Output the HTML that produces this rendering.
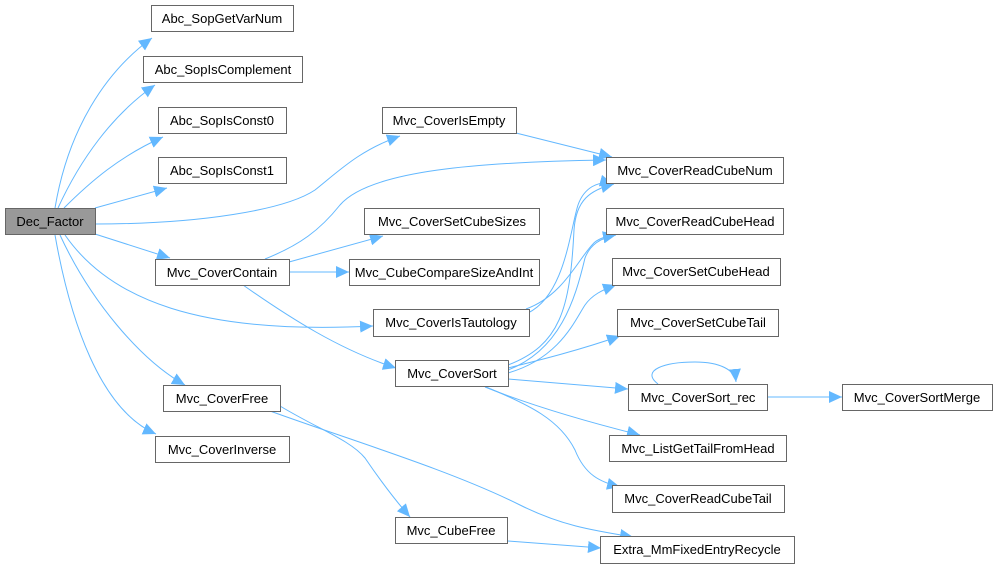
<!DOCTYPE html>
<html><head><meta charset="utf-8"><style>
html,body{margin:0;padding:0;background:#fff;}
svg{display:block;}
text{font-family:"Liberation Sans",Arial,sans-serif;font-size:13px;fill:#000;}
.n{fill:#fff;stroke:#666;stroke-width:1;}
.e{fill:none;stroke:#63b8ff;stroke-width:1;}
</style></head><body>
<svg width="993" height="568" viewBox="0 0 993 568" xmlns="http://www.w3.org/2000/svg">
<defs>
<marker id="a" markerUnits="userSpaceOnUse" markerWidth="14" markerHeight="12" refX="13" refY="6" orient="auto">
<path d="M0,0 L13,6 L0,12 z" fill="#63b8ff"/>
</marker>
</defs>
<g class="e" marker-end="url(#a)">
<path d="M55,208 C68,130 105,72 152,38"/>
<path d="M58,208 C80,160 112,115 155,85"/>
<path d="M64,208 C90,182 120,156 163,137"/>
<path d="M95,208 L167,188"/>
<path d="M95,224 C200,224 285,210 315,190 C340,170 360,150 400,136"/>
<path d="M265,259 C300,245 320,230 340,205 C370,170 480,162 606,160"/>
<path d="M95,234 L170,258"/>
<path d="M65,235 C110,300 200,335 373,326"/>
<path d="M243,285 C290,318 340,350 396,368"/>
<path d="M60,235 C90,300 140,360 185,385"/>
<path d="M55,235 C70,320 100,410 156,434"/>
<path d="M516,133 L612,157"/>
<path d="M289,262 L383,236"/>
<path d="M289,272 L349,272"/>
<path d="M528,313 C565,295 570,230 578,205 C584,188 598,180 613,184"/>
<path d="M526,309 C565,295 580,255 595,242 C600,238 608,236 616,234"/>
<path d="M508,365 C560,345 570,310 574,230 C576,200 590,190 614,184"/>
<path d="M508,370 C560,350 575,300 585,258 C590,245 600,238 616,235"/>
<path d="M508,373 C560,358 575,320 585,305 C592,295 602,290 616,285"/>
<path d="M508,368 C540,360 580,350 620,336"/>
<path d="M508,379 L628,389"/>
<path d="M485,387 C530,405 580,420 640,435"/>
<path d="M486,387 C530,405 560,420 575,450 C585,475 600,482 620,487"/>
<path d="M658,384 C640,370 665,362 695,362 C720,362 735,370 736,382"/>
<path d="M767,397 L842,397"/>
<path d="M280,406 C320,430 350,440 365,458 C380,480 395,500 410,517"/>
<path d="M270,411 C350,440 450,470 520,505 C560,525 590,530 633,537"/>
<path d="M508,541 L601,548"/>
</g>
<g>
<rect class="n" x="5.5" y="208.5" width="90" height="26" style="fill:#999;stroke:#666"/><text x="50" y="226" text-anchor="middle">Dec_Factor</text>
<rect class="n" x="151.5" y="5.5" width="142" height="26"/><text x="222" y="23" text-anchor="middle">Abc_SopGetVarNum</text>
<rect class="n" x="143.5" y="56.5" width="159" height="26"/><text x="223" y="74" text-anchor="middle">Abc_SopIsComplement</text>
<rect class="n" x="158.5" y="107.5" width="128" height="26"/><text x="222" y="125" text-anchor="middle">Abc_SopIsConst0</text>
<rect class="n" x="158.5" y="157.5" width="128" height="26"/><text x="222" y="175" text-anchor="middle">Abc_SopIsConst1</text>
<rect class="n" x="155.5" y="259.5" width="134" height="26"/><text x="222" y="277" text-anchor="middle">Mvc_CoverContain</text>
<rect class="n" x="163.5" y="385.5" width="117" height="26"/><text x="222" y="403" text-anchor="middle">Mvc_CoverFree</text>
<rect class="n" x="155.5" y="436.5" width="134" height="26"/><text x="222" y="454" text-anchor="middle">Mvc_CoverInverse</text>
<rect class="n" x="382.5" y="107.5" width="134" height="26"/><text x="449" y="125" text-anchor="middle">Mvc_CoverIsEmpty</text>
<rect class="n" x="364.5" y="208.5" width="175" height="26"/><text x="452" y="226" text-anchor="middle">Mvc_CoverSetCubeSizes</text>
<rect class="n" x="349.5" y="259.5" width="190" height="26"/><text x="444" y="277" text-anchor="middle">Mvc_CubeCompareSizeAndInt</text>
<rect class="n" x="373.5" y="309.5" width="156" height="27"/><text x="451" y="327" text-anchor="middle">Mvc_CoverIsTautology</text>
<rect class="n" x="395.5" y="360.5" width="113" height="26"/><text x="452" y="378" text-anchor="middle">Mvc_CoverSort</text>
<rect class="n" x="395.5" y="517.5" width="112" height="26"/><text x="451" y="535" text-anchor="middle">Mvc_CubeFree</text>
<rect class="n" x="606.5" y="157.5" width="177" height="26"/><text x="695" y="175" text-anchor="middle">Mvc_CoverReadCubeNum</text>
<rect class="n" x="606.5" y="208.5" width="177" height="26"/><text x="695" y="226" text-anchor="middle">Mvc_CoverReadCubeHead</text>
<rect class="n" x="612.5" y="258.5" width="168" height="27"/><text x="696" y="276" text-anchor="middle">Mvc_CoverSetCubeHead</text>
<rect class="n" x="617.5" y="309.5" width="161" height="27"/><text x="698" y="327" text-anchor="middle">Mvc_CoverSetCubeTail</text>
<rect class="n" x="628.5" y="384.5" width="139" height="26"/><text x="698" y="402" text-anchor="middle">Mvc_CoverSort_rec</text>
<rect class="n" x="842.5" y="384.5" width="150" height="26"/><text x="917" y="402" text-anchor="middle">Mvc_CoverSortMerge</text>
<rect class="n" x="609.5" y="435.5" width="177" height="26"/><text x="698" y="453" text-anchor="middle">Mvc_ListGetTailFromHead</text>
<rect class="n" x="612.5" y="485.5" width="172" height="27"/><text x="698" y="503" text-anchor="middle">Mvc_CoverReadCubeTail</text>
<rect class="n" x="600.5" y="536.5" width="194" height="27"/><text x="697" y="554" text-anchor="middle">Extra_MmFixedEntryRecycle</text>
</g>
</svg>
</body></html>
